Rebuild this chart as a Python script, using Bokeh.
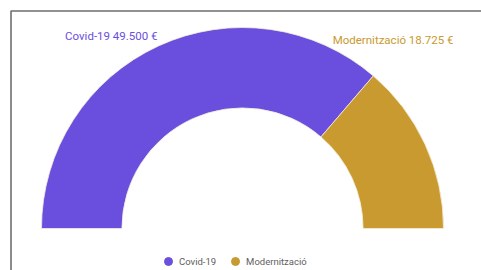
import numpy as np
from bokeh.plotting import figure
from bokeh.models import Range1d, BoxAnnotation, Legend, LegendItem, ColumnDataSource
from bokeh.core.properties import value
from bokeh.embed import file_html
from bokeh.resources import INLINE

categories = ["Covid-19", "Modernització"]
amounts = [49500, 18725]
amount_labels = ["49.500 €", "18.725 €"]
colors = ["#6a4fde", "#c89a30"]

W, H = 481, 270
R = 201.0  # px per data unit (outer radius)
cx, cy = 242.0, 228.0  # centre in canvas px (from top-left)

p = figure(width=W, height=H, output_backend="svg", toolbar_location=None,
           x_range=Range1d(-cx / R, (W - cx) / R), y_range=Range1d(-(H - cy) / R, cy / R),
           x_axis_location=None, y_axis_location=None, min_border=0,
           outline_line_color=None, tools="")
p.grid.visible = False
p.background_fill_color = "white"
p.border_fill_color = "white"

vals = np.array(amounts, dtype=float)
frac = vals / vals.sum()
ends = np.pi - np.cumsum(frac) * np.pi
starts = np.concatenate([[np.pi], ends[:-1]])
src = ColumnDataSource(dict(cat=categories, start=ends, end=starts, color=colors))
p.annular_wedge(x=0, y=0, inner_radius=0.60, outer_radius=1.0,
                start_angle="start", end_angle="end", fill_color="color",
                line_color="#f4ecd8", line_width=0.8, source=src)

# data labels
lbl_x = [(157 - cx) / R, (453 - cx) / R]
lbl_y = [(cy - 35) / R, (cy - 39) / R]
lbl_text = [f"{c} {a}" for c, a in zip(categories, amount_labels)]
p.text(x=lbl_x, y=lbl_y, text=lbl_text, text_color=colors,
       text_font=value("Roboto"), text_font_size="11.5px",
       text_align="right", text_baseline="middle")

# frame (only top and left edges fall inside the canvas)
p.add_layout(BoxAnnotation(left=(10.5 - cx) / R, top=(cy - 10.5) / R, right=10, bottom=-10,
                           fill_alpha=0, line_color="#6e6e6e", line_alpha=1.0, line_width=1.6))

# legend with circle markers
items = []
for c, col in zip(categories, colors):
    r = p.scatter(x=[np.nan], y=[np.nan], marker="circle", size=10, fill_color=col, line_color=col)
    items.append(LegendItem(label=c, renderers=[r]))
legend = Legend(items=items, orientation="horizontal", location=(158, -1),
                background_fill_alpha=0, border_line_color=None,
                label_text_font="Roboto", label_text_font_size="9.5px",
                label_text_color="#606060", glyph_width=20, glyph_height=20,
                spacing=9, padding=0, margin=0, label_standoff=1)
p.add_layout(legend)

open("out.html", "w").write(file_html(p, INLINE))
